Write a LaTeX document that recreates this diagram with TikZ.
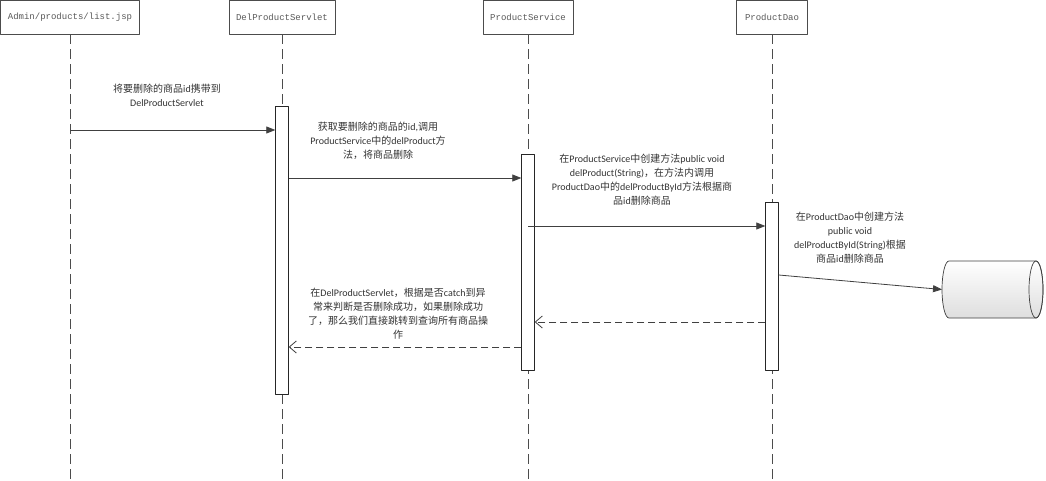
\documentclass[tikz,border=0pt]{standalone}
\usepackage{fontspec}
\setmainfont{Carlito}
\newfontfamily\cjkfont{Noto Sans CJK SC}
\newfontfamily\headfont{Liberation Mono}
\newcommand\zh[1]{{\cjkfont #1}}
\usetikzlibrary{arrows.meta}
\begin{document}
\begin{tikzpicture}[
		x=1pt,y=-1pt,
		>={Triangle[length=9pt,width=7pt]},
		line join=round,
		head/.style={draw=black!70,fill=white,minimum height=34pt,inner sep=0pt,text=black!65,font=\headfont\fontsize{9}{11}\selectfont},
		act/.style={draw=black!85,fill=white,minimum width=13pt,inner sep=0pt,anchor=north},
		life/.style={black!70,line width=0.6pt,dash pattern=on 10pt off 5pt},
		call/.style={->,black!75,line width=0.8pt},
		back/.style={black!75,line width=0.8pt,dash pattern=on 7pt off 4pt,-{Straight Barb[length=7pt,width=12pt]}},
		note/.style={align=center,text=black!80,font=\fontsize{10}{14}\selectfont}
		]
		\useasboundingbox (0,0) rectangle (1046,481);
		\coordinate (bottom) at (0,481);
		% heads
		\node[head,minimum width=139pt] (jsp) at (70,17) {Admin/products/list.jsp};
		\node[head,minimum width=106pt] (servlet) at (282,17) {DelProductServlet};
		\node[head,minimum width=90pt] (service) at (528,17) {ProductService};
		\node[head,minimum width=71pt] (dao) at (772,17) {ProductDao};
		\foreach \n in {jsp,servlet,service,dao}
			\draw[life] (\n.south) -- (\n.south |- bottom);
		% activations
		\node[act,minimum height=288pt] (servletact) at (282,106) {};
		\node[act,minimum height=216pt] (serviceact) at (528,154) {};
		\node[act,minimum height=168pt] (daoact) at (772,202) {};
		% database
		\shade[top color=white,bottom color=black!13,draw=black!75,line width=0.7pt]
			(949,261) arc[start angle=270,end angle=90,x radius=7,y radius=28.5]
			-- (1036,318) arc[start angle=90,end angle=-90,x radius=7,y radius=28.5] -- cycle;
		\draw[black!75,line width=0.7pt] (1036,289.5) ellipse[x radius=7,y radius=28.5];
		\coordinate (db) at (942,289.5);
		% calls
		\draw[call] (jsp.south |- 0,130) -- (servletact.west |- 0,130);
		\draw[call] (servletact.east |- 0,178) -- (serviceact.west |- 0,178);
		\draw[call] (service.south |- 0,226) -- (daoact.west |- 0,226);
		\draw[call] (daoact.east |- 0,275) -- (db);
		\draw[back] (daoact.west |- 0,322) -- (serviceact.east |- 0,322);
		\draw[back] (serviceact.west |- 0,347) -- (servletact.east |- 0,347);
		% labels
		\node[note] (n1) at (167,95) {\zh{将要删除的商品}id\zh{携带到}\\DelProductServlet};
		\node[note] (n2) at (378,141) {\zh{获取要删除的商品的}id,\zh{调用}\\ProductService\zh{中的}delProduct\zh{方}\\\zh{法，将商品删除}};
		\node[note] (n3) at (642,180) {\zh{在}ProductService\zh{中创建方法}public void\\delProduct(String)\zh{，在方法内调用}\\ProductDao\zh{中的}delProductById\zh{方法根据商}\\\zh{品}id\zh{删除商品}};
		\node[note] (n4) at (850,238) {\zh{在}ProductDao\zh{中创建方法}\\public void\\delProductById(String)\zh{根据}\\\zh{商品}id\zh{删除商品}};
		\node[note] (n6) at (398,314) {\zh{在}DelProductServlet\zh{，根据是否}catch\zh{到异}\\\zh{常来判断是否删除成功，如果删除成功}\\\zh{了，那么我们直接跳转到查询所有商品操}\\\zh{作}};
		\end{tikzpicture}
\end{document}
